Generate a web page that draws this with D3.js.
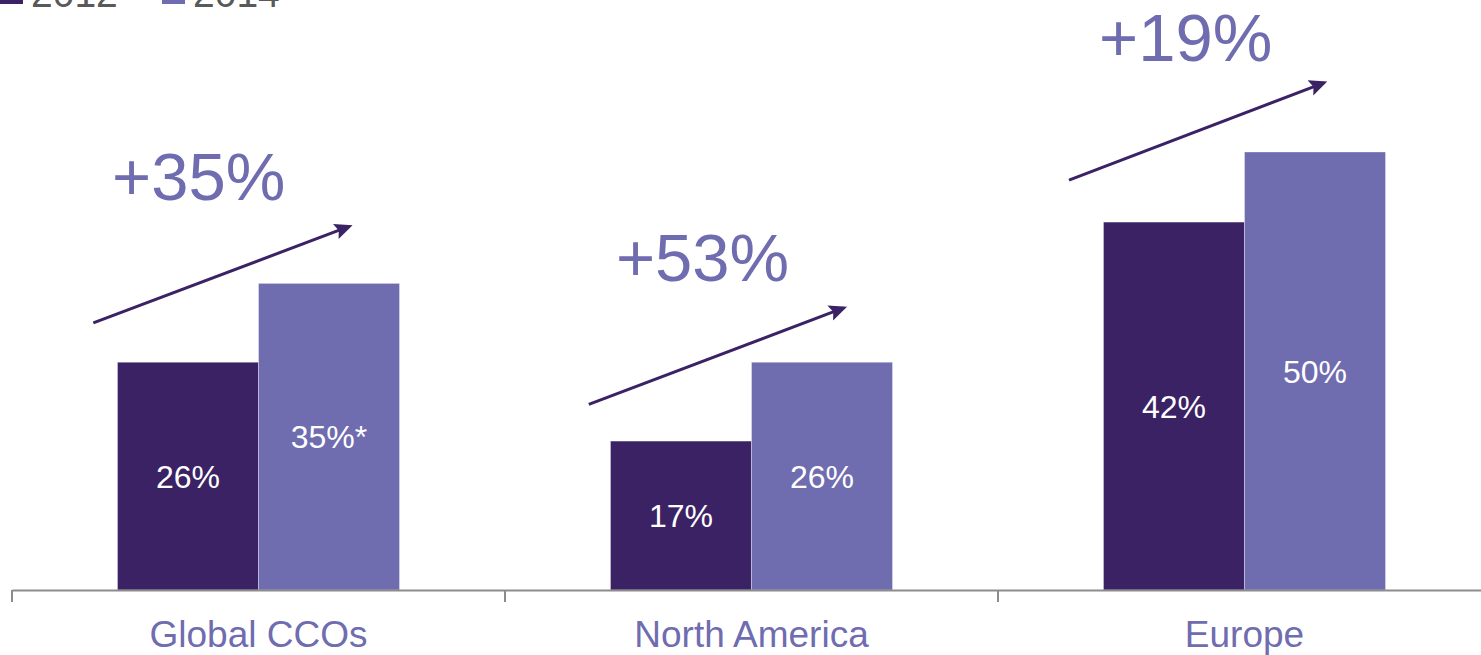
<!DOCTYPE html>
<html><head><meta charset="utf-8">
<script src="https://cdn.jsdelivr.net/npm/d3@7"></script>
<style>body{margin:0;background:#fff}svg{display:block}text{font-family:"Liberation Sans",Arial,sans-serif}</style>
</head><body><svg id="c" width="1481" height="655"></svg>
<script>
const categories = ["Global CCOs", "North America", "Europe"];
const seriesNames = ["2012", "2014"];
const values2012 = [26, 17, 42];
const values2014 = [35, 26, 50];
const labels2012 = ["26%", "17%", "42%"];
const labels2014 = ["35%*", "26%", "50%"];
const growthLabels = ["+35%", "+53%", "+19%"];
const growthLabelValue = [44.5, 35.3, 60.4];
const arrowStartValue = [30.5, 21.2, 46.8];
const arrowEndValue = [41.5, 32.2, 57.9];

const colors = ["#3a2264", "#6f6caf"];
const svg = d3.select("#c");
const x = d3.scaleBand().domain(categories).range([12, 1491]).paddingInner(0).paddingOuter(0);
const x1 = d3.scaleBand().domain(seriesNames).range([0, x.bandwidth()]).paddingInner(0).paddingOuter(0.748);
const y = d3.scaleLinear().domain([0, 60]).range([590, 64.4]);

const data = categories.map((c, i) => ({c, i, vals: [values2012[i], values2014[i]], labs: [labels2012[i], labels2014[i]]}));

svg.append("defs").append("marker").attr("id","ah").attr("viewBox","0 0 10 10").attr("refX",8).attr("refY",5)
  .attr("markerWidth",6).attr("markerHeight",6).attr("orient","auto")
  .append("path").attr("d","M0,0.5 L10,5 L0,9.5 L1.8,5 Z").attr("fill","#3a2264");

const g = svg.selectAll("g.grp").data(data).join("g").attr("class","grp").attr("transform", d => `translate(${x(d.c)},0)`);
seriesNames.forEach((s, k) => {
  g.append("rect").attr("x", x1(s)).attr("width", x1.bandwidth())
    .attr("y", d => y(d.vals[k])).attr("height", d => y(0) - y(d.vals[k]))
    .attr("fill", colors[k]).attr("stroke", "#ffffff").attr("stroke-opacity", 0.35).attr("stroke-width", 1);
  g.append("text").attr("x", x1(s) + x1.bandwidth()/2).attr("y", d => (y(d.vals[k]) + y(0))/2)
    .attr("dy", "0.36em").attr("text-anchor","middle").attr("fill","#fff").attr("font-size", 32)
    .text(d => d.labs[k]);
});

// axis
const axis = d3.axisBottom(x).tickSize(0).tickSizeOuter(0);
const ax = svg.append("g").attr("transform","translate(0,590)").call(axis);
ax.select(".domain").attr("stroke","#8c8c8c").attr("stroke-width",2);
ax.selectAll(".tick text").attr("font-size",37).attr("fill","#6f6caf").attr("dy",0).attr("y",57)
  .style("font-family","'Liberation Sans',Arial,sans-serif");
svg.append("g").selectAll("line").data(categories).join("line")
  .attr("x1", d => x(d)).attr("x2", d => x(d)).attr("y1", 590).attr("y2", 602)
  .attr("stroke","#8c8c8c").attr("stroke-width",2);

// growth annotations
const arrowX0 = [0.165, 0.170, 0.144];
const arrowX1 = [0.684, 0.687, 0.661];
const labelX = [0.203, 0.225, 0.205];
data.forEach((d, i) => {
  const bx = x(d.c), bw = x.bandwidth();
  svg.append("line").attr("x1", bx + arrowX0[i]*bw).attr("y1", y(arrowStartValue[i]))
    .attr("x2", bx + arrowX1[i]*bw).attr("y2", y(arrowEndValue[i]))
    .attr("stroke","#3a2264").attr("stroke-width",3).attr("marker-end","url(#ah)");
  svg.append("text").attr("x", bx + labelX[i]*bw).attr("y", y(growthLabelValue[i]))
    .attr("font-size",67).attr("fill","#6f6caf").text(growthLabels[i]);
});

// legend (clipped at top, as in the source)
const leg = svg.append("g");
const legX = [0, 162];
seriesNames.forEach((s, k) => {
  leg.append("rect").attr("x", legX[k]).attr("y", -18).attr("width", 23).attr("height", 22).attr("fill", colors[k]);
  leg.append("text").attr("x", legX[k] + 31).attr("y", 7).attr("font-size", 39).attr("fill","#595959").text(s);
});
</script></body></html>
